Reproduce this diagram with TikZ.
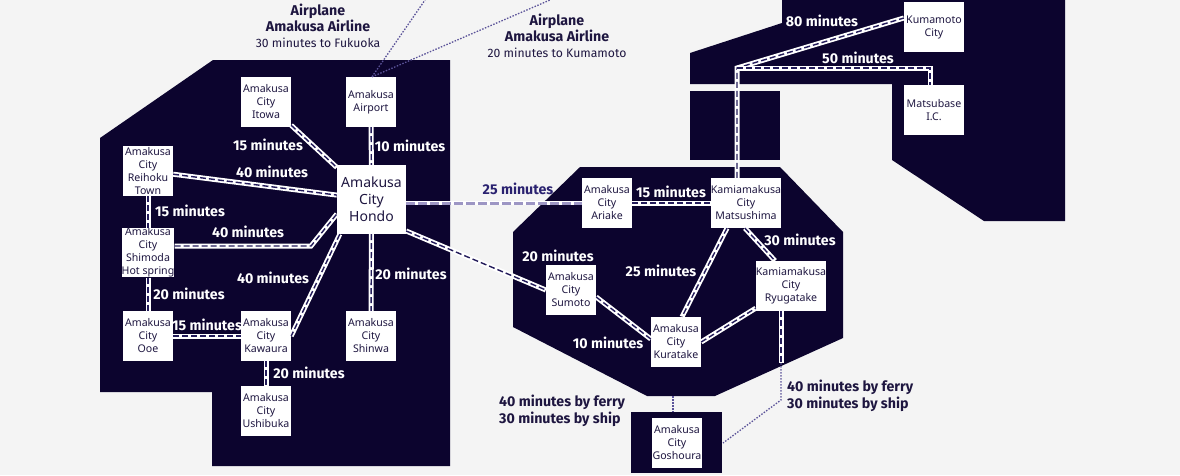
\documentclass[tikz,border=0pt]{standalone}
\usepackage{fontspec}
\setmainfont{Noto Sans}
\newfontfamily\labfont{Fira Sans}
\definecolor{bg}{HTML}{F4F4F4}
\definecolor{land}{HTML}{0C042E}
\definecolor{ink}{HTML}{1E1640}
\definecolor{dotc}{HTML}{5B5399}
\definecolor{lav}{HTML}{9D96C4}
\definecolor{navy}{HTML}{2A2270}
\definecolor{dashc}{HTML}{231B5A}
\tikzset{
  place/.style={fill=white, text=ink, inner sep=0pt, minimum width=50pt, minimum height=50pt,
    align=center, font=\fontsize{10.6}{13}\selectfont},
  bigplace/.style={place, minimum width=69pt, minimum height=69pt, font=\fontsize{14}{17}\selectfont},
  wideplace/.style={place, minimum width=70pt},
  midplace/.style={place, minimum width=60pt},
  road/.style={preaction={draw=white, line width=5pt}, draw=dashc, line width=1.4pt, dash pattern=on 6pt off 3pt},
  seaway/.style={preaction={draw=white, line width=4.6pt}, draw=lav, line width=3pt, dash pattern=on 9pt off 3pt},
  dotline/.style={draw=dotc, line width=1.3pt, dash pattern=on 1.5pt off 1.5pt},
  lab/.style={text=white, inner sep=0pt, font=\labfont\bfseries\fontsize{14.2}{16}\selectfont},
  darklab/.style={lab, text=navy},
  ferrylab/.style={inner sep=0pt, text=ink, align=left, font=\labfont\bfseries\fontsize{14.2}{16.5}\selectfont},
  airlab/.style={inner sep=0pt, text=ink, align=center, font=\labfont\bfseries\fontsize{14.2}{16}\selectfont},
}
\begin{document}
\begin{tikzpicture}[x=1pt, y=-1pt]
\useasboundingbox (0,0) rectangle (1180,475);
\fill[bg] (0,0) rectangle (1180,475);
% land
\fill[land] (213,60) -- (450,60) -- (450,466) -- (212,466) -- (212,392) -- (100,392) -- (100,138) -- cycle;
\fill[land] (580,167) -- (780,167) -- (843,232) -- (843,338) -- (715,396) -- (647,396) -- (513,327) -- (513,232) -- cycle;
\fill[land] (631,412) rectangle (722,473);
\fill[land] (690,84) -- (690,53) -- (782,23) -- (782,0) -- (1065,0) -- (1065,221) -- (984,221) -- (892,160) -- (892,84) -- cycle;
\fill[land] (690,91) rectangle (780,160);
% places
\node[place] (itowa) at (266,102) {Amakusa\\City\\Itowa};
\node[place] (airport) at (371,102) {Amakusa\\Airport};
\node[bigplace] (hondo) at (371.5,199.5) {Amakusa\\City\\Hondo};
\node[place] (reihoku) at (148,171) {Amakusa\\City\\Reihoku\\Town};
\node[place, minimum height=49pt] (shimoda) at (148,252.5) {Amakusa\\City\\Shimoda\\Hot spring};
\node[place] (ooe) at (148,336) {Amakusa\\City\\Ooe};
\node[place] (kawaura) at (266,336) {Amakusa\\City\\Kawaura};
\node[place] (shinwa) at (371,336) {Amakusa\\City\\Shinwa};
\node[place] (ushibuka) at (266,411) {Amakusa\\City\\Ushibuka};
\node[place] (ariake) at (607,203) {Amakusa\\City\\Ariake};
\node[wideplace] (matsushima) at (746,203) {Kamiamakusa\\City\\Matsushima};
\node[place] (sumoto) at (571,290) {Amakusa\\City\\Sumoto};
\node[place] (kuratake) at (676,342) {Amakusa\\City\\Kuratake};
\node[wideplace] (ryugatake) at (791,286) {Kamiamakusa\\City\\Ryugatake};
\node[midplace] (kumamoto) at (934,27) {Kumamoto\\City};
\node[midplace] (matsubase) at (934,110) {Matsubase\\I.C.};
\node[place] (goshoura) at (677,443) {Amakusa\\City\\Goshoura};
% helper coordinates
\coordinate (sh1) at (311,246);
\coordinate (h1) at (0,214);
\coordinate (h2) at (0,231);
\coordinate (s1) at (0,297);
\coordinate (k1) at (0,339);
\coordinate (jc) at (737,68);
\coordinate (jm) at (930,68);
\coordinate (ku1) at (0,18);
\coordinate (rf1) at (781,363);
\coordinate (rf2) at (781,400);
\coordinate (rf3) at (723,443);
\coordinate (kf1) at (673,396);
\coordinate (kf2) at (673,412);
\coordinate (fuk) at (425,0);
\coordinate (kmm) at (550,0);
% air routes
\draw[dotline] ([xshift=1pt]airport.north) -- (fuk);
\draw[dotline] ([xshift=1pt]airport.north) -- (kmm);
% roads
\draw[road] (itowa) -- (hondo);
\draw[road] (airport) -- (hondo);
\draw[road] (reihoku) -- (hondo);
\draw[road] (reihoku) -- (shimoda);
\draw[road] (shimoda.east |- sh1) -- (sh1) -- (hondo.west |- h1);
\draw[road] ([xshift=3pt]hondo.south west) -- (kawaura.east);
\draw[road] (hondo) -- (shinwa);
\draw[road] (shimoda) -- (ooe);
\draw[road] (ooe) -- (kawaura);
\draw[road] (kawaura) -- (ushibuka);
\draw[seaway] (hondo.east |- ariake) -- (ariake);
\draw[road] (ariake) -- (matsushima);
\draw[road] (hondo.east |- h2) -- (sumoto.west);
\draw[road] (sumoto.east |- s1) -- (kuratake.west |- k1);
\draw[road] ([xshift=-19pt]matsushima.south) -- ([xshift=6pt]kuratake.north);
\draw[road] ([xshift=-1pt]matsushima.south) -- ([xshift=-16pt]ryugatake.north);
\draw[road] (kuratake.east) -- ([yshift=3pt]ryugatake.south west);
\draw[road] ([xshift=-10pt]ryugatake.south) -- (rf1);
\draw[dotline] (rf1) -- (rf2) -- (rf3);
\draw[dotline] (kf1) -- (kf2);
\draw[road] (matsushima.north -| jc) -- (jc) -- (kumamoto.west |- ku1);
\draw[road] (jc) -- (jm) -- (matsubase.north -| jm);
% labels
\node[lab] (l1) at (268,145) {15 minutes};
\node[lab] (l2) at (410,146) {10 minutes};
\node[lab] (l3) at (272,172) {40 minutes};
\node[lab] (l4) at (190,211) {15 minutes};
\node[lab] (l5) at (248,232) {40 minutes};
\node[lab] (l6) at (273,278) {40 minutes};
\node[lab] (l7) at (411,274) {20 minutes};
\node[lab] (l8) at (189,294) {20 minutes};
\node[lab] (l9) at (207,325) {15 minutes};
\node[lab] (l10) at (309,373) {20 minutes};
\node[darklab] (l11) at (518,189) {25 minutes};
\node[lab] (l12) at (671,192) {15 minutes};
\node[lab] (l13) at (558,256) {20 minutes};
\node[lab] (l14) at (661,271) {25 minutes};
\node[lab] (l15) at (800,240) {30 minutes};
\node[lab] (l16) at (608,343) {10 minutes};
\node[lab] (l17) at (822,21) {80 minutes};
\node[lab] (l18) at (858,58) {50 minutes};
\node[ferrylab, anchor=west] (f1) at (499,411) {40 minutes by ferry\\30 minutes by ship};
\node[ferrylab, anchor=west] (f2) at (787,396) {40 minutes by ferry\\30 minutes by ship};
\node[airlab] (a1) at (318,26) {Airplane\\Amakusa Airline\\{\mdseries\fontsize{12.2}{14}\selectfont 30 minutes to Fukuoka}};
\node[airlab] (a2) at (557,36) {Airplane\\Amakusa Airline\\{\mdseries\fontsize{12.2}{14}\selectfont 20 minutes to Kumamoto}};
\end{tikzpicture}
\end{document}
